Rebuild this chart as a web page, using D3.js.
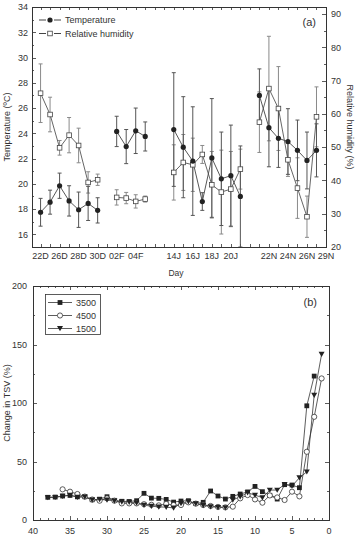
<!DOCTYPE html>
<html><head><meta charset="utf-8">
<script src="https://cdn.jsdelivr.net/npm/d3@7/dist/d3.min.js"></script>
<style>
html,body{margin:0;padding:0;background:#fff;}
text{font-family:"Liberation Sans",Arial,sans-serif;fill:#333;}
</style></head>
<body><svg id="c" width="356" height="546"></svg>
<script>
// ---------- Panel (a) data ----------
const dayIndex = [0,1,2,3,4,5,6, 8,9,10,11, 14,15,16,17,18,19,20,21, 23,24,25,26,27,28,29];
const dayGroup = [0,0,0,0,0,0,0, 1,1,1,1, 2,2,2,2,2,2,2,2, 3,3,3,3,3,3,3];
const tempMean = [17.75,18.55,19.85,18.65,17.95,18.45,17.9, 24.15,22.95,24.2,23.75, 24.3,22.9,21.8,18.6,22.05,20.4,20.65,19.0, 27.0,24.45,23.6,23.35,22.65,21.85,22.65];
const tempErr  = [1.1,0.95,1.0,1.2,1.4,1.35,1.0, 1.2,1.35,1.8,1.15, 4.5,4.0,4.3,0.7,4.7,3.7,4.0,4.0, 2.1,3.1,2.3,2.6,2.4,2.25,2.1];
const rhMean   = [66.2,59.8,49.8,53.6,50.5,39.4,40.2, 34.9,34.7,33.7,34.4, 42.4,45.4,44.7,47.8,38.7,36.5,37.4,43.4, 57.5,67.6,61.6,46.2,37.7,29.1,59.1];
const rhErr    = [8.8,5.2,2.2,5.3,5.2,3.2,1.7, 2.3,1.7,2.0,0.9, 8.3,8.4,8.0,2.7,10.0,12.6,11.3,6.0, 9.1,15.7,12.6,5.0,9.1,6.2,9.0];
const dayTickPos    = [0,2,4,6,8,10,14,16,18,20,24,26,28,30];
const dayTickLabels = ["22D","26D","28D","30D","02F","04F","14J","16J","18J","20J","22N","24N","26N","29N"];
const tempTicks = [16,18,20,22,24,26,28,30,32,34];
const rhTicks = [20,30,40,50,60,70,80,90];

// ---------- Panel (b) data ----------
const s3500x = [38,37,36,35,34,33,32,31,30,29,28,27,26,25,24,23,22,21,20,19,18,17,16,15,14,13,12,11,10,9,8,7,6,5,4,3,2];
const s3500y = [19.4,19.6,20.5,21.0,19.8,19.9,17.3,17.8,19.9,16.8,16.0,15.8,16.5,22.8,18.7,18.5,17.6,15.3,16.2,16.5,14.0,15.1,24.8,20.5,17.9,20.2,22.2,24.0,28.7,24.2,21.1,17.9,30.2,29.9,27.6,97.6,123.0];
const s4500x = [36,35,34,33,32,31,30,29,28,27,26,25,24,23,22,21,20,19,18,17,16,15,14,13,12,11,10,9,8,7,6,5,4,3,2,1];
const s4500y = [26.2,24.2,22.2,20.0,17.5,16.5,18.5,16.5,14.2,14.2,14.2,13.5,13.0,12.5,13.7,12.8,12.8,15.1,14.0,12.8,12.0,11.2,10.8,11.4,18.5,21.3,17.6,14.8,21.0,19.3,17.1,24.2,20.2,58.3,88.2,121.0];
const s1500x = [38,37,36,35,34,33,32,31,30,29,28,27,26,25,24,23,22,21,20,19,18,17,16,15,14,13,12,11,10,9,8,7,6,5,4,3,2,1];
const s1500y = [19.2,19.4,20.3,21.3,19.5,19.8,17.1,17.6,17.1,16.3,15.4,15.2,14.5,12.7,11.8,11.2,11.0,10.3,14.2,15.6,14.0,12.5,11.4,10.8,10.6,17.1,19.9,23.3,21.3,19.1,25.6,25.6,30.5,29.0,36.1,41.2,106.7,141.7];
const seriesNames = ["3500","4500","1500"];
const tsvXTicks = [40,35,30,25,20,15,10,5,0];
const tsvYTicks = [0,50,100,150,200];

const svg = d3.select("#c");
const AX = "#333";
const FS = 9;

function frame(g, x0, x1, y0, y1){
  g.append("rect").attr("x",x0).attr("y",y0).attr("width",x1-x0).attr("height",y1-y0)
    .attr("fill","none").attr("stroke",AX).attr("stroke-width",1);
}
function vTicks(g, scale, vals, xPos, dir, len){
  vals.forEach(v=>{ const y=Math.round(scale(v))+0.5;
    g.append("line").attr("x1",xPos).attr("x2",xPos+dir*len).attr("y1",y).attr("y2",y).attr("stroke",AX).attr("stroke-width",0.8);});
}
function hTicks(g, scale, vals, yPos, dir, len){
  vals.forEach(v=>{ const x=Math.round(scale(v))+0.5;
    g.append("line").attr("y1",yPos).attr("y2",yPos+dir*len).attr("x1",x).attr("x2",x).attr("stroke",AX).attr("stroke-width",0.8);});
}

// ================= Panel (a) =================
const A = {l:32, r:326, t:7, b:247};
const xA = d3.scaleLinear().domain([-0.9,30]).range([A.l,A.r]);
const yT = d3.scaleLinear().domain([15,34]).range([A.b,A.t]);
const yH = d3.scaleLinear().domain([20,92.1]).range([A.b,A.t]);
const ga = svg.append("g");

const allPos = d3.range(0,31);
hTicks(ga, xA, allPos, A.b, -1, 3);
hTicks(ga, xA, allPos, A.t, 1, 3);
vTicks(ga, yT, d3.range(16,35,1).filter(v=>v%2===1), A.l, 1, 2);
vTicks(ga, yT, tempTicks, A.l, 1, 4);
vTicks(ga, yH, d3.range(25,92,10), A.r, -1, 2);
vTicks(ga, yH, rhTicks, A.r, -1, 4);

ga.selectAll(".tl").data(tempTicks).enter().append("text")
  .attr("x",A.l-4).attr("y",d=>yT(d)+3.3).attr("text-anchor","end").attr("font-size",FS).text(d=>d);
ga.selectAll(".rl").data(rhTicks).enter().append("text")
  .attr("x",A.r+5).attr("y",d=>yH(d)+3.3).attr("text-anchor","start").attr("font-size",FS).text(d=>d);
ga.selectAll(".xl").data(dayTickPos).enter().append("text")
  .attr("x",d=>xA(d)).attr("y",A.b+12).attr("text-anchor","middle").attr("font-size",FS)
  .text((d,i)=>dayTickLabels[i]);

ga.append("text").attr("x",176).attr("y",276).attr("text-anchor","middle").attr("font-size",8.5).text("Day");
ga.append("text").attr("transform",`translate(10,${(A.t+A.b)/2}) rotate(-90)`).attr("text-anchor","middle").attr("font-size",9).text("Temperature (ºC)");
ga.append("text").attr("transform",`translate(347,${(A.t+A.b)/2}) rotate(90)`).attr("text-anchor","middle").attr("font-size",9).text("Relative humidity (%)");
ga.append("text").attr("x",316).attr("y",26).attr("text-anchor","end").attr("font-size",11).text("(a)");

const rows = dayIndex.map((p,i)=>({p, g:dayGroup[i], t:tempMean[i], te:tempErr[i], h:rhMean[i], he:rhErr[i]}));
const groups = d3.groups(rows, d=>d.g).map(d=>d[1]);

function errBars(g, yScale, key, ekey, color){
  rows.forEach(d=>{
    const x = xA(d.p), y1 = yScale(d[key]+d[ekey]), y2 = yScale(Math.max(d[key]-d[ekey], yScale.domain()[0]));
    g.append("line").attr("x1",x).attr("x2",x).attr("y1",y1).attr("y2",y2).attr("stroke",color).attr("stroke-width",1);
    g.append("line").attr("x1",x-2).attr("x2",x+2).attr("y1",y1).attr("y2",y1).attr("stroke",color).attr("stroke-width",1);
    g.append("line").attr("x1",x-2).attr("x2",x+2).attr("y1",y2).attr("y2",y2).attr("stroke",color).attr("stroke-width",1);
  });
}
errBars(ga, yH, "h", "he", "#8a8a8a");
errBars(ga, yT, "t", "te", "#555");

const lineT = d3.line().x(d=>xA(d.p)).y(d=>yT(d.t));
const lineH = d3.line().x(d=>xA(d.p)).y(d=>yH(d.h));
groups.forEach(gr=>{
  ga.append("path").attr("d",lineH(gr)).attr("fill","none").attr("stroke","#555").attr("stroke-width",0.9);
  ga.append("path").attr("d",lineT(gr)).attr("fill","none").attr("stroke","#444").attr("stroke-width",0.9);
});
ga.selectAll(".sq").data(rows).enter().append("rect")
  .attr("x",d=>xA(d.p)-2.3).attr("y",d=>yH(d.h)-2.3).attr("width",4.6).attr("height",4.6)
  .attr("fill","#fff").attr("stroke","#444").attr("stroke-width",0.8);
ga.selectAll(".ci").data(rows).enter().append("circle")
  .attr("cx",d=>xA(d.p)).attr("cy",d=>yT(d.t)).attr("r",2.6).attr("fill","#222");

const la = ga.append("g");
[["Temperature",20],["Relative humidity",33.5]].forEach((e,i)=>{
  la.append("line").attr("x1",39).attr("x2",46).attr("y1",e[1]).attr("y2",e[1]).attr("stroke","#444");
  la.append("line").attr("x1",54).attr("x2",61).attr("y1",e[1]).attr("y2",e[1]).attr("stroke","#444");
  if(i===0) la.append("circle").attr("cx",50).attr("cy",e[1]).attr("r",2.6).attr("fill","#222");
  else la.append("rect").attr("x",47.7).attr("y",e[1]-2.3).attr("width",4.6).attr("height",4.6).attr("fill","#fff").attr("stroke","#444").attr("stroke-width",0.8);
  la.append("text").attr("x",65).attr("y",e[1]+3.3).attr("font-size",FS).text(e[0]);
});
frame(ga, A.l+0.5, A.r+0.5, A.t+0.5, A.b+0.5);

// ================= Panel (b) =================
const B = {l:33, r:329, t:286, b:520};
const xB = d3.scaleLinear().domain([40,0]).range([B.l,B.r]);
const yB = d3.scaleLinear().domain([0,200]).range([B.b,B.t]);
const gb = svg.append("g");

hTicks(gb, xB, d3.range(0,41).filter(v=>v%5!==0), B.b, -1, 2);
hTicks(gb, xB, tsvXTicks, B.b, -1, 4);
hTicks(gb, xB, d3.range(0,41).filter(v=>v%5!==0), B.t, 1, 2);
hTicks(gb, xB, tsvXTicks, B.t, 1, 4);
vTicks(gb, yB, [25,75,125,175], B.l, 1, 2);
vTicks(gb, yB, tsvYTicks, B.l, 1, 4);
vTicks(gb, yB, [25,75,125,175], B.r, -1, 2);
vTicks(gb, yB, tsvYTicks, B.r, -1, 4);

gb.selectAll(".yl").data(tsvYTicks).enter().append("text")
  .attr("x",B.l-6).attr("y",d=>yB(d)+3.3).attr("text-anchor","end").attr("font-size",FS).text(d=>d);
gb.selectAll(".xl").data(tsvXTicks).enter().append("text")
  .attr("x",d=>xB(d)).attr("y",B.b+14).attr("text-anchor","middle").attr("font-size",FS).text(d=>d);
gb.append("text").attr("transform",`translate(10,${(B.t+B.b)/2}) rotate(-90)`).attr("text-anchor","middle").attr("font-size",9).text("Change in TSV (%)");
gb.append("text").attr("x",317).attr("y",306).attr("text-anchor","end").attr("font-size",11).text("(b)");

const series = [
  {name:seriesNames[0], x:s3500x, y:s3500y, m:"sq"},
  {name:seriesNames[1], x:s4500x, y:s4500y, m:"ci"},
  {name:seriesNames[2], x:s1500x, y:s1500y, m:"tr"}
];
const lineB = d3.line().x(d=>xB(d[0])).y(d=>yB(d[1]));
function marker(g, m, cx, cy){
  if(m==="sq") g.append("rect").attr("x",cx-2.4).attr("y",cy-2.4).attr("width",4.8).attr("height",4.8).attr("fill","#222");
  else if(m==="ci") g.append("circle").attr("cx",cx).attr("cy",cy).attr("r",2.6).attr("fill","#fff").attr("stroke","#333").attr("stroke-width",0.8);
  else g.append("path").attr("d",`M${cx-3},${cy-2.4}L${cx+3},${cy-2.4}L${cx},${cy+2.8}Z`).attr("fill","#222");
}
series.forEach(s=>{
  const pts = s.x.map((x,i)=>[x,s.y[i]]);
  gb.append("path").attr("d",lineB(pts)).attr("fill","none").attr("stroke","#333").attr("stroke-width",0.8);
});
series.forEach(s=>{
  s.x.forEach((x,i)=>marker(gb, s.m, xB(x), yB(s.y[i])));
});

gb.append("rect").attr("x",45.5).attr("y",294.5).attr("width",55).attr("height",40).attr("fill","#fff").attr("stroke","#333").attr("stroke-width",0.8);
series.forEach((s,i)=>{
  const y = 302.5 + i*13;
  gb.append("line").attr("x1",48).attr("x2",72).attr("y1",y).attr("y2",y).attr("stroke","#333").attr("stroke-width",0.8);
  marker(gb, s.m, 60, y);
  gb.append("text").attr("x",76).attr("y",y+3.3).attr("font-size",FS).text(s.name);
});
frame(gb, B.l+0.5, B.r+0.5, B.t+0.5, B.b+0.5);
</script></body></html>
